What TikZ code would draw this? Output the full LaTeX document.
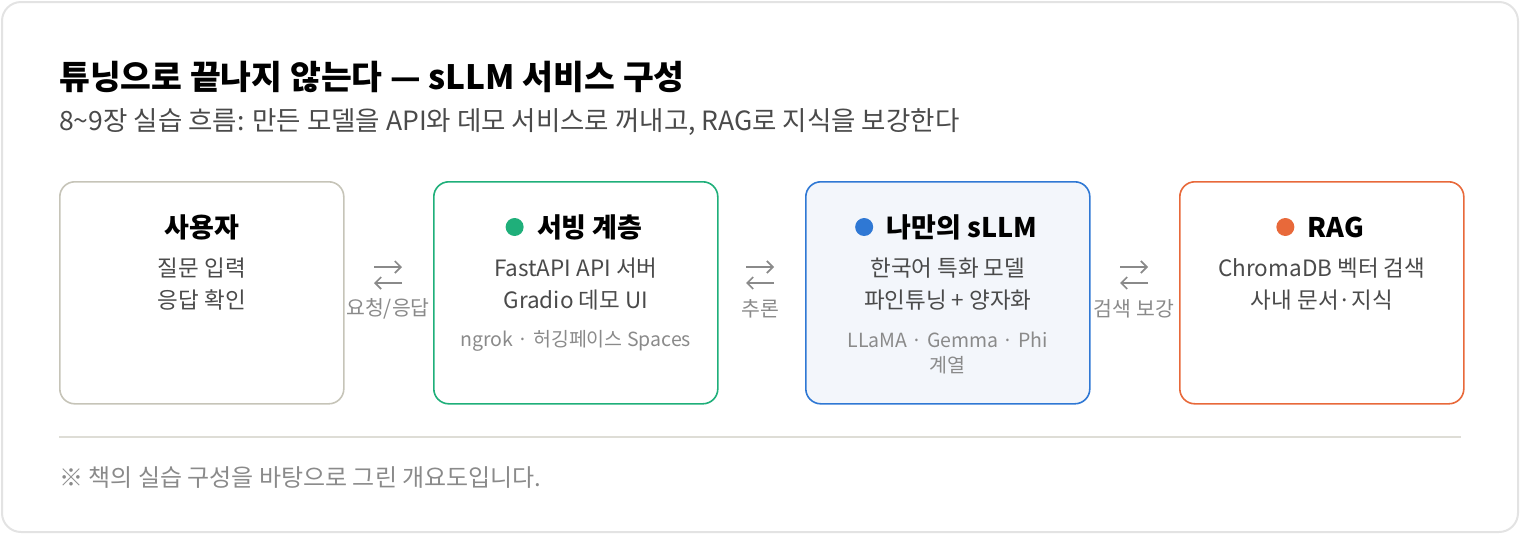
\documentclass[tikz,border=0pt]{standalone}
\usepackage{fontspec}
\setmainfont{Noto Sans CJK KR}
\usetikzlibrary{positioning,arrows.meta}

\definecolor{usergray}{HTML}{C6C4B8}
\definecolor{servegreen}{HTML}{1FAF7A}
\definecolor{modelblue}{HTML}{2F78D4}
\definecolor{modelfill}{HTML}{F3F6FB}
\definecolor{ragorange}{HTML}{E8693A}
\definecolor{textdark}{HTML}{4A4A4A}
\definecolor{textsoft}{HTML}{8A8A8A}
\definecolor{framegray}{HTML}{E3E3E3}
\definecolor{rulegray}{HTML}{DEDDD6}

\tikzset{
  layer/.style={draw, rounded corners=15pt, line width=1.6pt, minimum width=284pt,
    minimum height=222pt, anchor=north west, inner sep=0pt},
  boxtitle/.style={font=\fontsize{27}{30}\selectfont\bfseries, text=black, inner sep=0pt},
  boxtext/.style={font=\fontsize{22.5}{32}\selectfont, text=textdark, align=center, inner sep=0pt},
  boxnote/.style={font=\fontsize{19.5}{25}\selectfont, text=textsoft, align=center, inner sep=0pt},
  dot/.style={circle, minimum size=18pt, inner sep=0pt},
  linklabel/.style={font=\fontsize{20.5}{24}\selectfont, text=textsoft, inner sep=0pt},
  relay/.style={-{Straight Barb[length=6pt,width=12pt]}, line width=1.7pt, textsoft}
}

\begin{document}
\begin{tikzpicture}[x=1pt, y=-1pt] % pixel grid, y downwards
  \useasboundingbox (0,0) rectangle (1520,558);

  % outer card
  \draw[framegray, line width=2pt, rounded corners=19pt] (2,2) rectangle (1518,532);

  % heading
  \node[anchor=west, inner sep=0pt, font=\fontsize{33.5}{38}\selectfont\bfseries] (heading) at (59,77)
    {튜닝으로 끝나지 않는다 — sLLM 서비스 구성};
  \node[anchor=west, inner sep=0pt, font=\fontsize{26.5}{30}\selectfont, text=textdark] (subheading) at (59,122)
    {8\textasciitilde9장 실습 흐름: 만든 모델을 API와 데모 서비스로 꺼내고, RAG로 지식을 보강한다};

  % the four layers
  \node[layer, draw=usergray] (user) at (59,181) {};
  \node[layer, draw=servegreen] (serve) at (433,181) {};
  \node[layer, draw=modelblue, fill=modelfill] (model) at (805,181) {};
  \node[layer, draw=ragorange] (rag) at (1179,181) {};

  % user
  \node[boxtitle] (usertitle) at ([yshift=-46pt]user.north) {사용자};
  \node[boxtext] (usertext) at ([yshift=-103pt]user.north) {질문 입력\\응답 확인};

  % serving layer
  \node[boxtitle] (servetitle) at ([xshift=14pt,yshift=-46pt]serve.north) {서빙 계층};
  \node[dot, fill=servegreen, left=13pt of servetitle] (servedot) {};
  \node[boxtext] (servetext) at ([yshift=-103pt]serve.north) {FastAPI API 서버\\Gradio 데모 UI};
  \node[boxnote] (servenote) at ([yshift=-160pt]serve.north) {ngrok · 허깅페이스 Spaces};

  % own sLLM
  \node[boxtitle] (modeltitle) at ([xshift=14pt,yshift=-46pt]model.north) {나만의 sLLM};
  \node[dot, fill=modelblue, left=13pt of modeltitle] (modeldot) {};
  \node[boxtext] (modeltext) at ([yshift=-103pt]model.north) {한국어 특화 모델\\파인튜닝 + 양자화};
  \node[boxnote] (modelnote) at ([yshift=-172pt]model.north) {LLaMA · Gemma · Phi\\계열};

  % RAG
  \node[boxtitle] (ragtitle) at ([xshift=14pt,yshift=-46pt]rag.north) {RAG};
  \node[dot, fill=ragorange, left=13pt of ragtitle] (ragdot) {};
  \node[boxtext] (ragtext) at ([yshift=-103pt]rag.north) {ChromaDB 벡터 검색\\사내 문서·지식};

  % links between layers
  \node[linklabel] (reqlabel) at (388,309) {요청/응답};
  \node[linklabel] (inferlabel) at (760,309) {추론};
  \node[linklabel] (auglabel) at (1134,309) {검색 보강};
  \foreach \lab in {reqlabel, inferlabel, auglabel} {
    \coordinate (\lab-tl) at ([xshift=-14pt,yshift=42pt]\lab.center);
    \coordinate (\lab-tr) at ([xshift=14pt,yshift=42pt]\lab.center);
    \coordinate (\lab-bl) at ([xshift=-14pt,yshift=26pt]\lab.center);
    \coordinate (\lab-br) at ([xshift=14pt,yshift=26pt]\lab.center);
    \draw[relay] (\lab-tl) -- (\lab-tr);
    \draw[relay] (\lab-br) -- (\lab-bl);
  }

  % footer
  \draw[rulegray, line width=1.5pt] (59,437) -- (1461,437);
  \node[anchor=west, inner sep=0pt, font=\fontsize{24}{28}\selectfont, text=textsoft] (footnote) at (59,478)
    {※ 책의 실습 구성을 바탕으로 그린 개요도입니다.};
\end{tikzpicture}
\end{document}
